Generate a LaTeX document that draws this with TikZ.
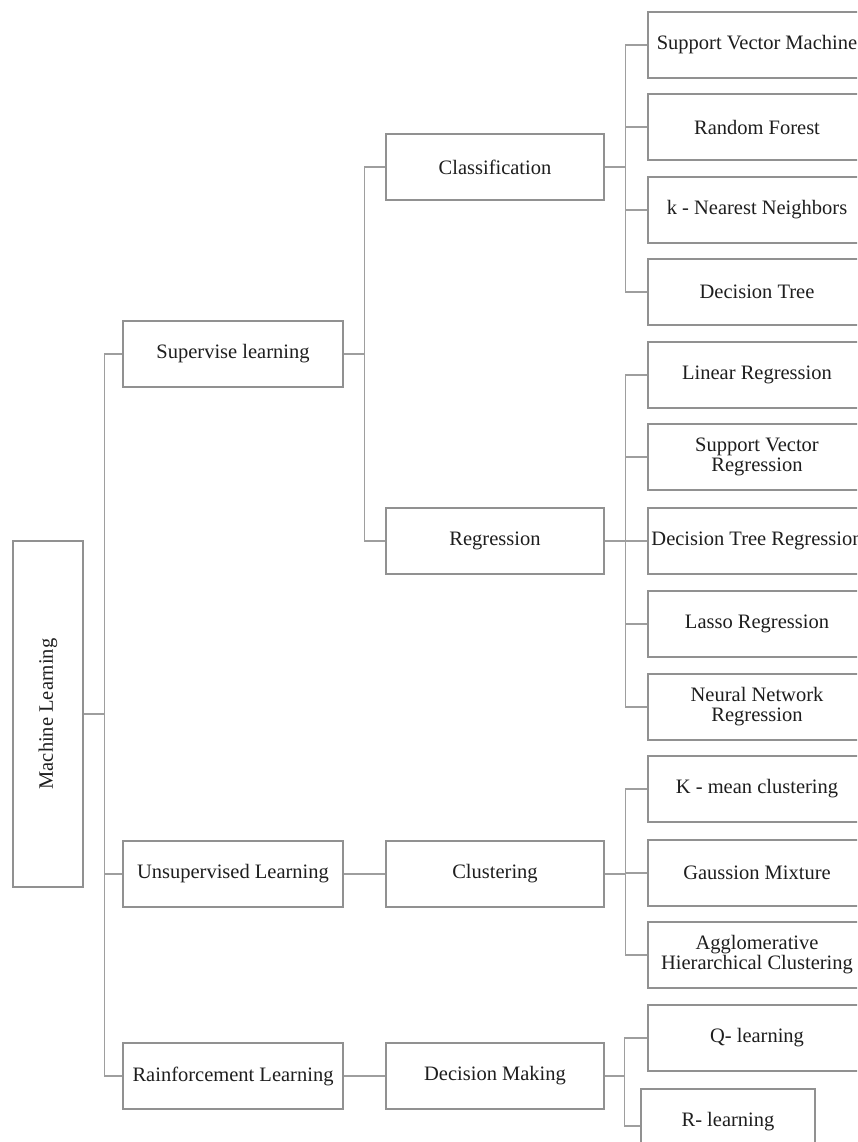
\documentclass[tikz,border=0pt]{standalone}
\usepackage{fontspec}
\setmainfont{Liberation Serif}
\definecolor{boxgray}{RGB}{145,145,145}
\definecolor{linkgray}{RGB}{158,158,158}
\definecolor{inkblack}{RGB}{30,30,30}
\begin{document}
\begin{tikzpicture}[x=1pt,y=-1pt,
  box/.style={draw=boxgray, line width=1.4pt, fill=white, inner sep=0pt,
    minimum height=66pt, align=center, text=inkblack,
    font=\fontsize{20.5}{20}\selectfont},
  mid/.style={box, minimum width=220pt},
  inner/.style={box, minimum width=218pt},
  leaf/.style={box, minimum width=218pt},
  link/.style={draw=linkgray, line width=1.5pt},
]
\useasboundingbox (0,0) rectangle (857,1142);
\clip (0,0) rectangle (857,1142);

% root
\node[box, minimum width=70pt, minimum height=346pt] (ml) at (48,714)
  {\rotatebox{90}{Machine Learning}};

% learning paradigms
\node[mid] (sup)   at (233,354)  {Supervise learning};
\node[mid] (unsup) at (233,874)  {Unsupervised Learning};
\node[mid] (rl)    at (233,1076) {Rainforcement Learning};

% tasks
\node[inner] (cls) at (495,167)  {Classification};
\node[inner] (reg) at (495,541)  {Regression};
\node[inner] (clu) at (495,874)  {Clustering};
\node[inner] (dm)  at (495,1076) {Decision Making};

% classification methods
\node[leaf] (svm) at (757,45)  {Support Vector Machine};
\node[leaf] (rf)  at (757,127) {Random Forest};
\node[leaf] (knn) at (757,210) {k - Nearest Neighbors};
\node[leaf] (dt)  at (757,292) {Decision Tree};

% regression methods
\node[leaf] (lr)    at (757,375) {Linear Regression};
\node[leaf] (svr)   at (757,457) {Support Vector\\Regression};
\node[leaf] (dtr)   at (757,541) {Decision Tree Regression};
\node[leaf] (lasso) at (757,624) {Lasso Regression};
\node[leaf] (nnr)   at (757,707) {Neural Network\\Regression};

% clustering methods
\node[leaf] (km)  at (757,789) {K - mean clustering};
\node[leaf] (gm)  at (757,873) {Gaussion Mixture};
\node[leaf] (ahc) at (757,955) {Agglomerative\\Hierarchical Clustering};

% decision making methods
\node[leaf] (ql) at (757,1038) {Q- learning};
\node[box, minimum width=174pt] (rlearn) at (728,1122) {R- learning};

% tree connectors: out of the parent, along a vertical bus, into the child
\foreach \p/\c in {ml/sup, ml/unsup, ml/rl,
                   sup/cls, sup/reg,
                   unsup/clu, rl/dm,
                   cls/svm, cls/rf, cls/knn, cls/dt,
                   reg/lr, reg/svr, reg/dtr, reg/lasso, reg/nnr,
                   clu/km, clu/gm, clu/ahc}
  \draw[link] (\p.east) -- ++(21,0) |- (\c.west);
\draw[link] (dm.east) -- ++(20,0) |- (ql.west);
\draw[link] (dm.east) -- ++(20,0) |- ([yshift=-4pt]rlearn.west);
\end{tikzpicture}
\end{document}
